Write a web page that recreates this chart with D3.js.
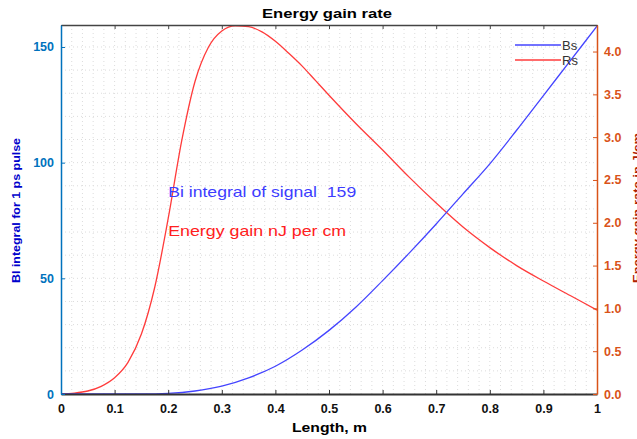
<!DOCTYPE html>
<html>
<head>
  <meta charset="UTF-8">
  <title>Energy gain rate</title>
  <script src="https://d3js.org/d3.v7.min.js"></script>
  <style>
    body { margin: 0; background: #fff; }
    text { font-family: "Liberation Sans", Arial, sans-serif; }
  </style>
</head>
<body>
  <div id="chart"></div>
  <script>
    // length along the device, m
    const bsLength = [0, 0.1, 0.15, 0.2, 0.25, 0.3, 0.35, 0.4, 0.45, 0.5, 0.55, 0.6, 0.65, 0.7, 0.75, 0.8, 0.85, 0.9, 0.95, 1.0];
    // Bl integral (left axis)
    const bsValues = [0, 0, 0.03, 0.3, 1.3, 3.4, 7, 12, 19, 27.5, 37.5, 49, 61, 73.5, 86.5, 99.5, 114, 129, 144, 159];

    const rsLength = [0, 0.025, 0.05, 0.075, 0.1, 0.125, 0.15, 0.175, 0.2, 0.225, 0.25, 0.275, 0.3, 0.325, 0.35, 0.375, 0.4, 0.425, 0.45, 0.475, 0.5, 0.55, 0.6, 0.65, 0.7, 0.75, 0.8, 0.85, 0.9, 0.95, 1.0];
    // energy gain rate (right axis)
    const rsValues = [0, 0.01, 0.035, 0.09, 0.19, 0.37, 0.7, 1.25, 2.05, 2.95, 3.65, 4.05, 4.24, 4.3, 4.29, 4.23, 4.12, 3.98, 3.83, 3.66, 3.49, 3.16, 2.85, 2.53, 2.23, 1.95, 1.71, 1.5, 1.32, 1.15, 0.98];

    const xTicks = [0, 0.1, 0.2, 0.3, 0.4, 0.5, 0.6, 0.7, 0.8, 0.9, 1];
    const leftTicks = [0, 50, 100, 150];
    const rightTicks = [0, 0.5, 1, 1.5, 2, 2.5, 3, 3.5, 4];

    const W = 637, H = 439;
    const margin = { top: 25, right: 40, bottom: 45, left: 61 };
    const width = W - margin.left - margin.right;
    const height = H - margin.top - margin.bottom;

    const blue = "#0072BD", orange = "#D95319";

    const svg = d3.select("#chart").append("svg")
      .attr("width", W).attr("height", H);
    const g = svg.append("g")
      .attr("transform", "translate(" + margin.left + "," + margin.top + ")");

    const x = d3.scaleLinear().domain([0, 1]).range([0, width]);
    const yL = d3.scaleLinear().domain([0, 159.5]).range([height, 0]);
    const yR = d3.scaleLinear().domain([0, 4.31]).range([height, 0]);

    // dotted grid
    g.append("g").selectAll("line")
      .data(d3.range(1, 50).map(i => i * 0.02))
      .join("line")
      .attr("x1", d => x(d)).attr("x2", d => x(d))
      .attr("y1", 0).attr("y2", height)
      .attr("stroke", "#dcdcdc").attr("stroke-dasharray", "1,3");
    g.append("g").selectAll("line")
      .data(d3.range(1, 16).map(i => i * 10))
      .join("line")
      .attr("x1", 0).attr("x2", width)
      .attr("y1", d => yL(d)).attr("y2", d => yL(d))
      .attr("stroke", "#dcdcdc").attr("stroke-dasharray", "1,3");

    // curves
    const bsLine = d3.line().curve(d3.curveMonotoneX)
      .x((d, i) => x(bsLength[i])).y(d => yL(d));
    const rsLine = d3.line().curve(d3.curveMonotoneX)
      .x((d, i) => x(rsLength[i])).y(d => yR(d));

    g.append("path").attr("d", rsLine(rsValues))
      .attr("fill", "none").attr("stroke", "#ff3b3b").attr("stroke-width", 1.3);
    g.append("path").attr("d", bsLine(bsValues))
      .attr("fill", "none").attr("stroke", "#4444ff").attr("stroke-width", 1.3);

    // bottom axis
    const xAxis = g.append("g")
      .attr("transform", "translate(0," + height + ")")
      .call(d3.axisBottom(x).tickValues(xTicks).tickSizeInner(-4).tickSizeOuter(0)
        .tickFormat(d => d === 0 || d === 1 ? d3.format("d")(d) : d3.format(".1f")(d)));
    xAxis.select(".domain").attr("stroke", "#333").attr("stroke-width", 2);
    xAxis.selectAll(".tick line").attr("stroke", "#333");
    xAxis.selectAll("text").attr("dy", "1.25em")
      .style("font-size", "12.5px").style("font-weight", "bold").attr("fill", "#111");

    // top axis
    const xTop = g.append("g")
      .call(d3.axisTop(x).tickValues(xTicks).tickSizeInner(-4).tickSizeOuter(0).tickFormat(""));
    xTop.select(".domain").attr("stroke", "#444").attr("stroke-width", 1.5);
    xTop.selectAll(".tick line").attr("stroke", "#444");

    // left axis
    const left = g.append("g")
      .call(d3.axisLeft(yL).tickValues(leftTicks).tickSizeInner(-4).tickSizeOuter(0));
    left.select(".domain").attr("stroke", blue).attr("stroke-width", 1.5);
    left.selectAll(".tick line").attr("stroke", blue);
    left.selectAll("text").attr("x", -7)
      .style("font-size", "12.5px").style("font-weight", "bold").attr("fill", blue);

    // right axis
    const right = g.append("g")
      .attr("transform", "translate(" + width + ",0)")
      .call(d3.axisRight(yR).tickValues(rightTicks).tickSizeInner(-4).tickSizeOuter(0));
    right.select(".domain").attr("stroke", orange).attr("stroke-width", 1.5);
    right.selectAll(".tick line").attr("stroke", orange);
    right.selectAll("text").attr("x", 7)
      .style("font-size", "12.5px").style("font-weight", "bold").attr("fill", orange);

    // title and labels
    svg.append("text")
      .attr("x", 262).attr("y", 18)
      .attr("textLength", 130).attr("lengthAdjust", "spacingAndGlyphs")
      .style("font-size", "13px").style("font-weight", "bold")
      .text("Energy gain rate");

    svg.append("text")
      .attr("x", 292).attr("y", 432)
      .attr("textLength", 75).attr("lengthAdjust", "spacingAndGlyphs")
      .style("font-size", "13px").style("font-weight", "bold")
      .text("Length, m");

    svg.append("text")
      .attr("transform", "translate(20,283) rotate(-90)")
      .attr("textLength", 145).attr("lengthAdjust", "spacingAndGlyphs")
      .style("font-size", "11px").style("font-weight", "bold")
      .attr("fill", "#0000cc")
      .text("Bl integral for 1 ps pulse");

    svg.append("text")
      .attr("transform", "translate(641,283) rotate(-90)")
      .attr("textLength", 150).attr("lengthAdjust", "spacingAndGlyphs")
      .style("font-size", "11px").style("font-weight", "bold")
      .attr("fill", "#b02000")
      .text("Energy gain rate in J/cm");

    // annotations
    g.append("text")
      .attr("x", x(0.2)).attr("y", yL(85.2))
      .attr("textLength", 188).attr("lengthAdjust", "spacingAndGlyphs")
      .style("font-size", "15px").style("white-space", "pre").attr("fill", "#3d3dff")
      .text("Bi integral of signal  159");
    g.append("text")
      .attr("x", x(0.2)).attr("y", yL(68.3))
      .attr("textLength", 178).attr("lengthAdjust", "spacingAndGlyphs")
      .style("font-size", "15px").attr("fill", "#ff2020")
      .text("Energy gain nJ per cm");

    // legend
    const legend = g.append("g").attr("transform", "translate(" + (width - 82) + ",20)");
    const items = [["Bs", "#4444ff"], ["Rs", "#ff3b3b"]];
    items.forEach((it, i) => {
      legend.append("line")
        .attr("x1", 0).attr("x2", 46).attr("y1", i * 15).attr("y2", i * 15)
        .attr("stroke", it[1]).attr("stroke-width", 1.3);
      legend.append("text")
        .attr("x", 47).attr("y", i * 15 + 5)
        .style("font-size", "13px").attr("fill", "#333")
        .text(it[0]);
    });
  </script>
</body>
</html>
